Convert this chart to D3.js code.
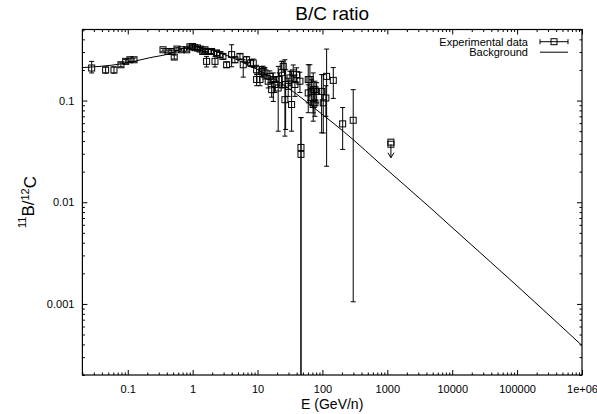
<!DOCTYPE html>
<html>
<head>
<meta charset="utf-8">
<script src="https://cdn.jsdelivr.net/npm/d3@7"></script>
<style>
  body { margin: 0; background: #fff; }
  svg { font-family: "Liberation Sans", Arial, Helvetica, sans-serif; }
</style>
</head>
<body>
<div id="chart"></div>
<script>
// experimental points: energy (GeV/n), ratio, lower and upper end of the error bar
var energy = [0.0278, 0.0456, 0.0613, 0.0785, 0.0929, 0.108, 0.125,
  0.349, 0.417, 0.480, 0.520, 0.573, 0.677, 0.809, 0.908, 1.0, 1.085, 1.19, 1.30, 1.43, 1.55, 1.64, 1.72, 1.96, 2.21, 2.34, 2.63, 2.93,
  3.34, 3.99, 4.48, 5.36, 6.02, 6.79, 7.83, 8.59, 9.68, 9.68, 10.9, 11.6, 12.2, 13.0, 14.6, 15.5, 16.5, 17.5, 18.5, 20.8, 21.6, 23.5,
  24.9, 26.4, 27.1, 29.7, 31.6, 33.5, 35.5, 37.7, 40.0, 45.0, 46.7, 46.7, 60.4, 60.4, 64.1, 68.2, 72.1, 72.1, 76.6, 76.6, 81.4,
  97.2, 103, 113, 116, 147, 205, 298];
var ratio = [0.209, 0.200, 0.200, 0.225, 0.243, 0.252, 0.252,
  0.316, 0.304, 0.304, 0.268, 0.321, 0.316, 0.316, 0.338, 0.340, 0.331, 0.329, 0.321, 0.304, 0.316, 0.243, 0.304, 0.304, 0.243, 0.294, 0.283, 0.272,
  0.225, 0.283, 0.252, 0.272, 0.225, 0.252, 0.234, 0.234, 0.201, 0.161, 0.161, 0.194, 0.194, 0.187, 0.155, 0.173, 0.128, 0.161, 0.144, 0.133, 0.161, 0.188,
  0.217, 0.102, 0.144, 0.138, 0.167, 0.0914, 0.187, 0.144, 0.180, 0.155, 0.0346, 0.0296, 0.161, 0.119, 0.161, 0.123, 0.0914, 0.128, 0.128, 0.095, 0.123,
  0.123, 0.095, 0.106, 0.173, 0.158, 0.059, 0.064];
var errLow = [0.187, 0.186, 0.186, 0.215, 0.233, 0.242, 0.242,
  0.306, 0.294, 0.294, 0.256, 0.311, 0.306, 0.306, 0.326, 0.328, 0.319, 0.317, 0.309, 0.292, 0.304, 0.214, 0.290, 0.290, 0.214, 0.278, 0.267, 0.256,
  0.211, 0.215, 0.236, 0.256, 0.170, 0.234, 0.216, 0.212, 0.180, 0.140, 0.140, 0.172, 0.170, 0.163, 0.133, 0.150, 0.108, 0.098, 0.120, 0.050, 0.135, 0.133,
  0.190, 0.0447, 0.052, 0.110, 0.140, 0.050, 0.150, 0.110, 0.150, 0.120, 0, 0, 0.076, 0.095, 0.100, 0.090, 0.0627, 0.0757, 0.100, 0.070, 0.095,
  0.0482, 0.048, 0.070, 0.0226, 0.105, 0.0331, 0.00105];
var errHigh = [0.243, 0.214, 0.214, 0.235, 0.253, 0.262, 0.262,
  0.326, 0.314, 0.314, 0.280, 0.331, 0.326, 0.326, 0.350, 0.352, 0.343, 0.341, 0.333, 0.316, 0.328, 0.272, 0.318, 0.318, 0.272, 0.310, 0.299, 0.288,
  0.239, 0.354, 0.268, 0.288, 0.252, 0.270, 0.252, 0.256, 0.222, 0.182, 0.182, 0.216, 0.218, 0.211, 0.177, 0.196, 0.148, 0.187, 0.168, 0.217, 0.187, 0.243,
  0.244, 0.252, 0.201, 0.166, 0.194, 0.194, 0.224, 0.178, 0.210, 0.190, 0.068, 0.068, 0.225, 0.143, 0.225, 0.160, 0.138, 0.187, 0.155, 0.120, 0.150,
  0.180, 0.180, 0.140, 0.321, 0.211, 0.0854, 0.128];

// upper limit point
var limitEnergy = [1136, 1136];
var limitRatio = [0.0390, 0.0372];
var limitTo = 0.0274;

// background model
var bgEnergy = [0.02, 0.0805, 0.22, 0.447, 0.76, 1.085, 2.63, 8.2, 20.6, 37.7, 76.6, 295, 716, 4530, 9230, 96000, 1e6];
var bgRatio = [0.211, 0.23, 0.264, 0.29, 0.329, 0.338, 0.294, 0.215, 0.155, 0.119, 0.0835, 0.0415, 0.025, 0.0089, 0.0059, 0.00154, 0.00039];

var xTicks = [0.1, 1, 10, 100, 1000, 10000, 100000, 1e6];
var xTickLabels = ["0.1", "1", "10", "100", "1000", "10000", "100000", "1e+06"];
var yTicks = [0.001, 0.01, 0.1];
var yTickLabels = ["0.001", "0.01", "0.1"];

var margin = { top: 29.5, right: 15, bottom: 39, left: 82.4 },
    width = 597 - margin.left - margin.right,
    height = 414 - margin.top - margin.bottom;

var svg = d3.select("#chart")
    .append("svg")
    .attr("width", 597)
    .attr("height", 414);

var g = svg.append("g")
    .attr("transform", "translate(" + margin.left + "," + margin.top + ")");

var x = d3.scaleLog().domain([0.02, 1e6]).range([0, width]);
var y = d3.scaleLog().domain([0.0002, 0.5]).range([height, 0]);

function minorTicks(lo, hi) {
    var out = [];
    for (var e = -5; e <= 6; e++) {
        for (var m = 2; m <= 9; m++) {
            var v = m * Math.pow(10, e);
            if (v >= lo * 0.999 && v <= hi * 1.001) out.push(v);
        }
    }
    return out;
}
var xMinor = minorTicks(0.02, 1e6);
var yMinor = minorTicks(0.0002, 0.5);

function styleAxis(sel) {
    sel.select(".domain").remove();
    sel.selectAll("line").attr("stroke", "#000").attr("stroke-width", 1);
    sel.selectAll("text").attr("fill", "#000").style("font-size", "11px");
}

// ticks point inward on all four sides
g.append("g")
    .attr("transform", "translate(0," + height + ")")
    .call(d3.axisBottom(x).tickValues(xTicks).tickSize(-5).tickPadding(10)
        .tickFormat(function (d, i) { return xTickLabels[i]; }))
    .call(styleAxis);
g.append("g")
    .attr("transform", "translate(0," + height + ")")
    .call(d3.axisBottom(x).tickValues(xMinor).tickSize(-2.5).tickFormat(""))
    .call(styleAxis);
g.append("g")
    .call(d3.axisTop(x).tickValues(xTicks).tickSize(-5).tickFormat(""))
    .call(styleAxis);
g.append("g")
    .call(d3.axisTop(x).tickValues(xMinor).tickSize(-2.5).tickFormat(""))
    .call(styleAxis);

g.append("g")
    .call(d3.axisLeft(y).tickValues(yTicks).tickSize(-5).tickPadding(8)
        .tickFormat(function (d, i) { return yTickLabels[i]; }))
    .call(styleAxis);
g.append("g")
    .call(d3.axisLeft(y).tickValues(yMinor).tickSize(-2.5).tickFormat(""))
    .call(styleAxis);
g.append("g")
    .attr("transform", "translate(" + width + ",0)")
    .call(d3.axisRight(y).tickValues(yTicks).tickSize(-5).tickFormat(""))
    .call(styleAxis);
g.append("g")
    .attr("transform", "translate(" + width + ",0)")
    .call(d3.axisRight(y).tickValues(yMinor).tickSize(-2.5).tickFormat(""))
    .call(styleAxis);

g.append("clipPath").attr("id", "plotclip")
    .append("rect").attr("width", width).attr("height", height);

var plot = g.append("g").attr("clip-path", "url(#plotclip)");

var bgData = bgEnergy.map(function (e, i) { return { e: e, r: bgRatio[i] }; });
var bgLine = d3.line()
    .x(function (d) { return x(d.e); })
    .y(function (d) { return y(d.r); })
    .curve(d3.curveMonotoneX);

plot.append("path")
    .datum(bgData)
    .attr("fill", "none")
    .attr("stroke", "#000")
    .attr("stroke-width", 1)
    .attr("d", bgLine);

var points = energy.map(function (e, i) {
    return { e: e, r: ratio[i], lo: errLow[i], hi: errHigh[i] };
});
var ymin = y.domain()[0] * 0.5;
var cap = 2.5, half = 3;

var bars = plot.append("g").attr("stroke", "#000").attr("stroke-width", 1).attr("fill", "none");
points.forEach(function (d) {
    var px = x(d.e), yl = y(Math.max(d.lo, ymin)), yh = y(d.hi);
    bars.append("line").attr("x1", px).attr("x2", px).attr("y1", yl).attr("y2", yh);
    bars.append("line").attr("x1", px - cap).attr("x2", px + cap).attr("y1", yh).attr("y2", yh);
    if (d.lo > 0) {
        bars.append("line").attr("x1", px - cap).attr("x2", px + cap).attr("y1", yl).attr("y2", yl);
    }
    bars.append("rect")
        .attr("x", px - half).attr("y", y(d.r) - half)
        .attr("width", 2 * half).attr("height", 2 * half);
});

// upper limit with arrow
limitEnergy.forEach(function (e, i) {
    bars.append("rect")
        .attr("x", x(e) - half).attr("y", y(limitRatio[i]) - half)
        .attr("width", 2 * half).attr("height", 2 * half);
});
var lx = x(limitEnergy[0]), ly0 = y(limitRatio[1]), ly1 = y(limitTo);
bars.append("line").attr("x1", lx).attr("x2", lx).attr("y1", ly0).attr("y2", ly1);
bars.append("path").attr("d", "M" + (lx - 3) + "," + (ly1 - 5) + "L" + lx + "," + ly1 + "L" + (lx + 3) + "," + (ly1 - 5));

// frame
g.append("rect")
    .attr("width", width).attr("height", height)
    .attr("fill", "none").attr("stroke", "#000").attr("stroke-width", 1.2);

// legend
var legend = g.append("g").style("font-size", "11px");
legend.append("text").attr("x", 528 - margin.left).attr("y", 45.5 - margin.top)
    .attr("text-anchor", "end").text("Experimental data");
legend.append("text").attr("x", 528 - margin.left).attr("y", 56 - margin.top)
    .attr("text-anchor", "end").text("Background");
var lg = legend.append("g").attr("stroke", "#000").attr("fill", "none")
    .attr("transform", "translate(" + (-margin.left) + "," + (-margin.top) + ")");
lg.append("line").attr("x1", 540).attr("x2", 568).attr("y1", 41.7).attr("y2", 41.7);
lg.append("line").attr("x1", 540).attr("x2", 540).attr("y1", 39.2).attr("y2", 44.2);
lg.append("line").attr("x1", 568).attr("x2", 568).attr("y1", 39.2).attr("y2", 44.2);
lg.append("rect").attr("x", 551).attr("y", 38.7).attr("width", 6).attr("height", 6);
lg.append("line").attr("x1", 540).attr("x2", 568).attr("y1", 52.2).attr("y2", 52.2);

// titles
svg.append("text")
    .attr("x", margin.left + width / 2).attr("y", 20)
    .attr("text-anchor", "middle").style("font-size", "19px")
    .text("B/C ratio");

svg.append("text")
    .attr("x", margin.left + width / 2).attr("y", 409)
    .attr("text-anchor", "middle").style("font-size", "14px")
    .text("E (GeV/n)");

var yl = svg.append("text")
    .attr("transform", "translate(31,202) rotate(-90)")
    .attr("text-anchor", "middle").style("font-size", "17px");
yl.append("tspan").attr("dy", "-0.45em").style("font-size", "11px").text("11");
yl.append("tspan").attr("dy", "0.45em").text("B/");
yl.append("tspan").attr("dy", "-0.45em").style("font-size", "11px").text("12");
yl.append("tspan").attr("dy", "0.45em").text("C");
</script>
</body>
</html>
